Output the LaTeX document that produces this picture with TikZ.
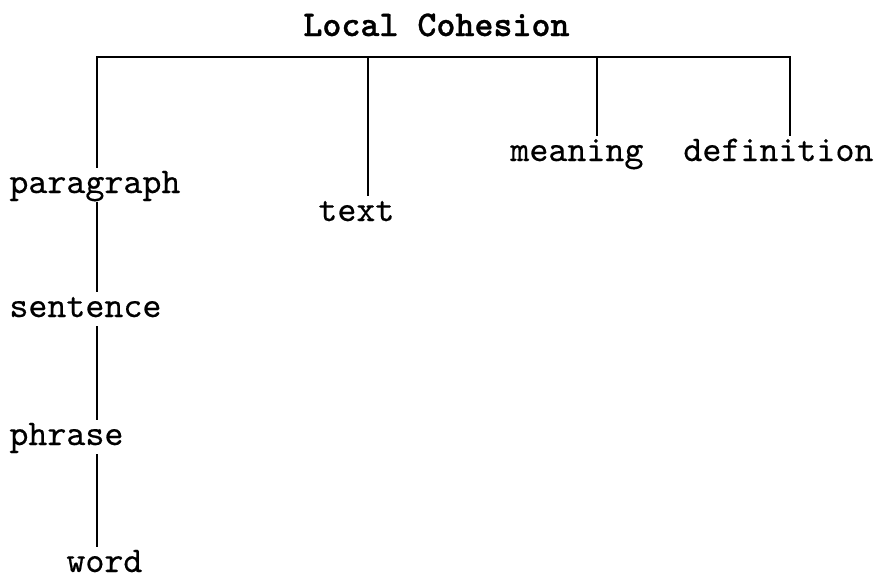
\documentclass[tikz,border=0pt]{standalone}
\usepackage{fontspec}
\newfontfamily\lblfont[FakeBold=0.4]{lmmono10-regular.otf}
\newfontfamily\headfont[FakeBold=0.8]{lmmonolt10-bold.otf}
\usepackage{tikz}

\begin{document}
\begin{tikzpicture}[x=0.5pt,y=-0.5pt,lbl/.style={anchor=base west,inner sep=0pt,text height=12.5pt,text depth=4.5pt,font=\lblfont\fontsize{18.1}{20}\selectfont},head/.style={anchor=base west,inner sep=0pt,font=\headfont\fontsize{18.1}{20}\selectfont},line/.style={line width=1pt}]
\useasboundingbox (0,0) rectangle (881,578);
\node[head] (top) at (303,36) {Local Cohesion};
\node[lbl] (paragraph) at (9,193) {paragraph};
\node[lbl] (sentence) at (9,317) {sentence};
\node[lbl] (phrase) at (9,445) {phrase};
\node[lbl] (word) at (66,572) {word};
\node[lbl] (text) at (318,221) {text};
\node[lbl] (meaning) at (510,161) {meaning};
\node[lbl] (definition) at (683,161) {definition};
\coordinate (jp) at (97,57);\coordinate (jt) at (368,57);\coordinate (jm) at (597,57);\coordinate (jd) at (790,57);
\draw[line] (paragraph.north -| jp) -- (jp) -- (jd) -- (definition.north -| jd);
\draw[line] (jt) -- (text.north -| jt);\draw[line] (jm) -- (meaning.north -| jm);
\draw[line] (paragraph.south -| jp) -- (sentence.north -| jp);\draw[line] (sentence.south -| jp) -- (phrase.north -| jp);\draw[line] (phrase.south -| jp) -- (word.north -| jp);
\end{tikzpicture}
\end{document}
